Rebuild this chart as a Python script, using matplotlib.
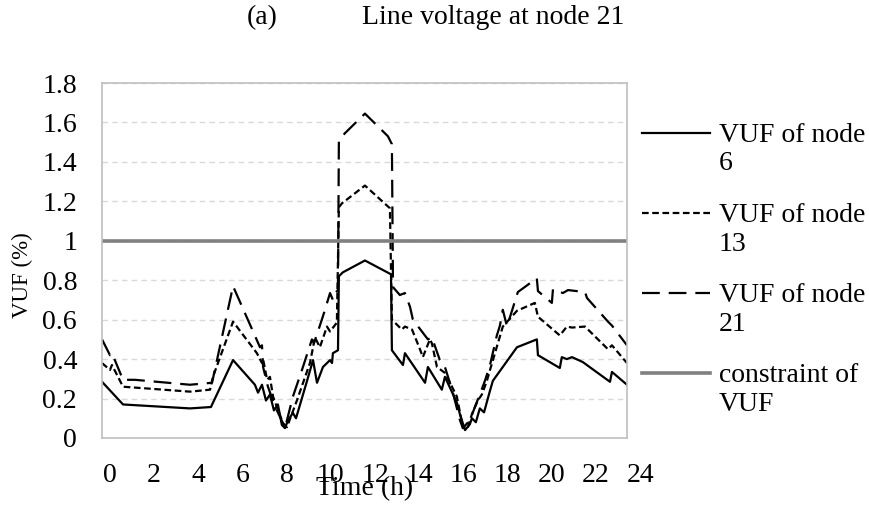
import matplotlib.pyplot as plt
from matplotlib.legend_handler import HandlerLine2D

plt.rcParams['font.family'] = ['Liberation Serif', 'DejaVu Serif']

# time (h) and VUF (%)
t6 = [0.00, 0.95, 3.98, 4.93, 5.93, 6.92, 7.06, 7.24, 7.42, 7.60, 7.78, 7.96, 8.14, 8.28,
      8.42, 8.64, 8.78, 9.28, 9.55, 9.73, 10.00, 10.32, 10.41, 10.45, 10.68, 10.72, 10.90,
      11.90, 13.08, 13.12, 13.62, 13.71, 14.62, 14.75, 15.38, 15.52, 16.06, 16.20, 16.43,
      16.65, 16.74, 16.92, 17.10, 17.29, 17.56, 17.69, 18.78, 19.68, 19.73, 20.72, 20.81,
      21.04, 21.27, 21.76, 22.99, 23.08, 23.76]
v6 = [0.285, 0.17, 0.15, 0.157, 0.395, 0.27, 0.23, 0.27, 0.19, 0.22, 0.14, 0.17, 0.066, 0.05,
      0.09, 0.127, 0.10, 0.29, 0.395, 0.28, 0.36, 0.395, 0.38, 0.43, 0.445, 0.82, 0.84,
      0.90, 0.83, 0.445, 0.37, 0.43, 0.28, 0.36, 0.245, 0.31, 0.18, 0.12, 0.04,
      0.07, 0.10, 0.08, 0.15, 0.13, 0.24, 0.29, 0.46, 0.50, 0.42, 0.355, 0.41,
      0.40, 0.41, 0.385, 0.285, 0.335, 0.27]

t13 = [0.00, 0.36, 0.45, 0.95, 3.98, 4.89, 5.02, 5.93, 7.01, 7.24, 7.29, 7.47, 7.60, 7.74,
       8.19, 8.37, 8.82, 9.41, 9.64, 9.86, 10.18, 10.32, 10.63, 10.72, 10.86, 11.90, 13.03,
       13.12, 13.57, 13.71, 14.03, 14.39, 14.52, 14.84, 14.93, 15.16, 15.52, 15.75, 16.06,
       16.33, 16.52, 16.74, 17.01, 17.19, 17.42, 17.56, 18.14, 18.78, 19.59, 19.73, 20.72,
       21.04, 21.27, 21.86, 22.90, 23.08, 23.76]
v13 = [0.38, 0.345, 0.37, 0.26, 0.235, 0.245, 0.31, 0.59, 0.43, 0.38, 0.40, 0.295, 0.31, 0.21,
       0.075, 0.055, 0.19, 0.38, 0.51, 0.46, 0.565, 0.54, 0.585, 1.17, 1.19, 1.28, 1.165,
       0.60, 0.55, 0.565, 0.55, 0.45, 0.41, 0.50, 0.48, 0.36, 0.33, 0.28, 0.21,
       0.055, 0.04, 0.12, 0.19, 0.22, 0.29, 0.345, 0.565, 0.645, 0.685, 0.615, 0.52,
       0.565, 0.56, 0.565, 0.45, 0.47, 0.38]

t21 = [0.00, 0.36, 0.45, 0.95, 1.49, 3.98, 4.98, 5.93, 7.15, 7.24, 7.29, 7.51, 7.83, 8.19,
       8.28, 8.64, 9.05, 9.50, 9.59, 9.95, 10.09, 10.32, 10.45, 10.59, 10.68, 10.72, 10.99,
       11.90, 12.58, 12.94, 13.12, 13.17, 13.48, 13.71, 13.94, 14.07, 14.75, 14.93, 15.29,
       15.52, 15.66, 15.88, 16.20, 16.33, 16.65, 16.92, 17.10, 17.33, 17.56, 17.87, 18.01,
       18.14, 18.33, 18.82, 19.68, 19.73, 20.36, 20.41, 20.86, 21.09, 21.86, 21.95, 22.90,
       23.08, 23.76]
v21 = [0.50, 0.42, 0.43, 0.295, 0.295, 0.27, 0.28, 0.77, 0.46, 0.47, 0.36, 0.26, 0.16, 0.075,
       0.05, 0.21, 0.345, 0.50, 0.48, 0.60, 0.65, 0.735, 0.70, 0.74, 0.75, 1.51, 1.545,
       1.645, 1.57, 1.53, 1.49, 0.765, 0.725, 0.735, 0.665, 0.60, 0.50, 0.51, 0.395,
       0.36, 0.31, 0.23, 0.09, 0.05, 0.09, 0.17, 0.22, 0.29, 0.37, 0.52, 0.57,
       0.65, 0.565, 0.74, 0.81, 0.745, 0.685, 0.755, 0.735, 0.75, 0.74, 0.71, 0.59,
       0.57, 0.47]

vuf_limit = 1.0
hour_labels = list(range(0, 25, 2))
label_shift = 0.36   # Excel draws the category labels a little right of the points
yticks = [0, 0.2, 0.4, 0.6, 0.8, 1, 1.2, 1.4, 1.6, 1.8]
ytick_labels = ['0', '0.2', '0.4', '0.6', '0.8', '1', '1.2', '1.4', '1.6', '1.8']


class FirstLineHandler(HandlerLine2D):
    # put the legend sample next to the first line of a two-line label
    def create_artists(self, legend, orig_handle, xdescent, ydescent, width, height,
                       fontsize, trans):
        return super().create_artists(legend, orig_handle, xdescent, ydescent - 1.2 * fontsize,
                                      width, height, fontsize, trans)


fs = 20
fig = plt.figure(figsize=(8.69, 5.05), dpi=100)
ax = fig.add_axes([0.1174, 0.1327, 0.6041, 0.7029])

ax.plot(t6, v6, color='black', lw=1.6, label='VUF of node\n6')
ax.plot(t13, v13, color='black', lw=1.6, dashes=(3, 1.6), label='VUF of node\n13')
ax.plot(t21, v21, color='black', lw=1.6, dashes=(8, 4), label='VUF of node\n21')
ax.axhline(vuf_limit, color='#808080', lw=2.6, label='constraint of\nVUF')

ax.set_xlim(0, 23.76)
ax.set_ylim(0, 1.8)
ax.set_xticks([])
for h in hour_labels:
    ax.text(h + label_shift, -0.07, str(h), transform=ax.get_xaxis_transform(),
            ha='center', va='top', fontsize=fs, clip_on=False)
ax.set_yticks(yticks)
ax.set_yticklabels(ytick_labels)
ax.tick_params(length=0, labelsize=fs, pad=18)
ax.grid(axis='y', color='#d9d9d9', lw=1, dashes=(4, 3))
ax.set_axisbelow(True)
for s in ax.spines.values():
    s.set_color('#bfbfbf')
    s.set_linewidth(1.2)

ax.set_xlabel('Time (h)', fontsize=fs)
ax.xaxis.set_label_coords(0.5, -0.107)
ax.set_ylabel('VUF (%)', fontsize=16.5)
ax.yaxis.set_label_coords(-0.131, 0.459)

fig.text(262 / 869, 1 - 18 / 505, '(a)', fontsize=fs, ha='center', va='center')
fig.text(362 / 869, 1 - 18 / 505, 'Line voltage at node 21', fontsize=fs, ha='left', va='center')

ax.legend(loc='upper left', bbox_to_anchor=(1.008, 0.92), frameon=False, fontsize=fs,
          handlelength=2.45, handletextpad=0.3, labelspacing=0.95, borderaxespad=0,
          handler_map={plt.Line2D: FirstLineHandler()})

fig.savefig('out.png', dpi=100)
